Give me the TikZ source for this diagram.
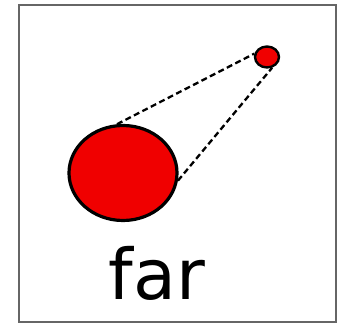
\documentclass[tikz,border=0pt]{standalone}
\usetikzlibrary{shapes.geometric}
\usepackage{fontspec}
\setmainfont{DejaVu Sans}
\definecolor{ballred}{RGB}{240,0,0}
\begin{document}
\begin{tikzpicture}[x=1pt,y=1pt,
  ball/.style={draw=black,fill=ballred,line width=3.2pt,ellipse,inner sep=0pt},
  sightline/.style={draw=black,line width=2.3pt,dash pattern=on 6pt off 3.5pt},
  frame/.style={draw=black!60,line width=2pt}]
\useasboundingbox (0,0) rectangle (343,324);
\draw[frame] (19,2) rectangle (336,319);
\node[ball,minimum width=108pt,minimum height=95pt] (big) at (123,151) {};
\node[ball,minimum width=24pt,minimum height=21pt,line width=2.4pt] (small) at (267,267) {};
\draw[sightline] (big.97) -- (small.165);
\draw[sightline] (big.-8) -- (small.-65);
\node[font=\fontsize{70}{74}\selectfont,inner sep=0pt,anchor=base] (lbl) at (157,24) {far};
\end{tikzpicture}
\end{document}
